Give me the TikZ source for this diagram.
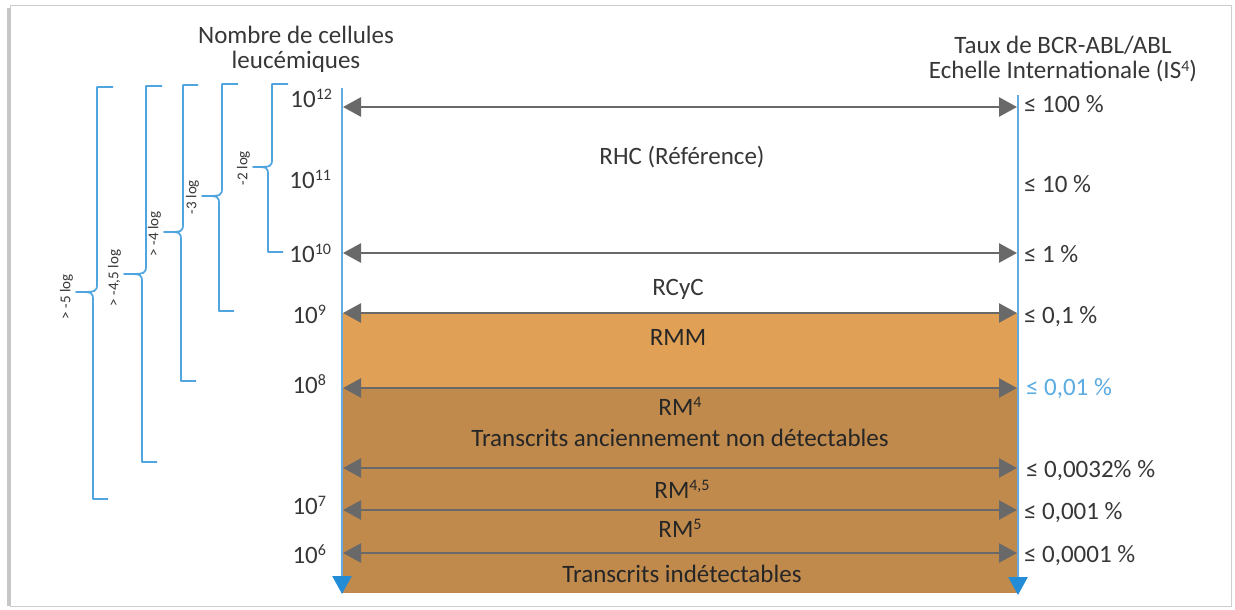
\documentclass[tikz,border=0pt]{standalone}
\usepackage{fontspec}
\setmainfont{Carlito}
\usetikzlibrary{arrows.meta}
\definecolor{axisblue}{RGB}{100,170,222}
\definecolor{tipblue}{RGB}{35,140,215}
\definecolor{bracblue}{RGB}{80,165,222}
\definecolor{arrgrey}{RGB}{105,105,105}
\definecolor{lightorange}{RGB}{224,161,86}
\definecolor{darkorange}{RGB}{192,138,77}
\definecolor{txt}{RGB}{55,55,55}
\definecolor{bluetxt}{RGB}{90,172,226}
\definecolor{framegrey}{RGB}{205,205,205}
\newcommand\supx[1]{\raisebox{7.5pt}{\fontsize{16}{16}\selectfont #1}}
\begin{document}
\begin{tikzpicture}[x=1pt,y=-1pt,
  every node/.style={inner sep=0pt, outer sep=0pt, text=txt},
  big/.style={font=\fontsize{25}{23}\selectfont},
  head/.style={font=\fontsize{25}{25}\selectfont, align=center, anchor=base},
  small/.style={font=\fontsize{15}{15}\selectfont},
  level/.style={draw=arrgrey, line width=2.6pt,
    {Triangle[length=18pt,width=19pt]}-{Triangle[length=18pt,width=19pt]}},
  axisline/.style={draw=axisblue, line width=2.5pt,
    -{Triangle[length=18pt,width=19pt,color=tipblue]}},
  bracket/.style={draw=bracblue, line width=1.7pt, line join=round},
  bracelabel/.style={small, rotate=90, anchor=south},
  framebox/.style={draw=framegrey, line width=1pt}
]
\useasboundingbox (0,0) rectangle (1235,610);
\fill[white] (0,0) rectangle (1235,610);
% frame
\draw[framebox] (10,6) rectangle (1231,606);
\draw[draw=black!22, line width=4pt] (9,8) -- (9,606);

% coloured bands
\fill[lightorange] (342,313) rectangle (1018,388);
\fill[darkorange] (342,388) rectangle (1018,593);

% axes
\coordinate (LT) at (342,88);
\coordinate (LB) at (342,594);
\coordinate (RT) at (1018,95);
\coordinate (RB) at (1018,595);
\draw[axisline] (LT) -- (LB);
\draw[axisline] (RT) -- (RB);

% level arrows
\foreach \n/\y in {a/107,b/253,c/313,d/388,e/468,f/510,g/553}{
  \coordinate (L\n) at (343,\y);
  \coordinate (R\n) at (1017,\y);
  \draw[level] (L\n) -- (R\n);
}

% headers
\node[head] (hleft) at (296,69) {Nombre de cellules\\leucémiques};
\node[head] (hright) at (1063,79) {Taux de BCR-ABL/ABL\\Echelle Internationale (IS\supx{4})};

% left labels
\node[big, anchor=base east] (n12) at (332,107) {10\supx{12}};
\node[big, anchor=base east] (n11) at (331,188) {10\supx{11}};
\node[big, anchor=base east] (n10) at (331,262) {10\supx{10}};
\node[big, anchor=base east] (n9) at (326,323) {10\supx{9}};
\node[big, anchor=base east] (n8) at (326,393) {10\supx{8}};
\node[big, anchor=base east] (n7) at (326,514) {10\supx{7}};
\node[big, anchor=base east] (n6) at (326,563) {10\supx{6}};

% right labels
\node[big, anchor=base west] (p1) at (1024,112) {≤ 100 \%};
\node[big, anchor=base west] (p2) at (1024,192) {≤ 10 \%};
\node[big, anchor=base west] (p3) at (1024,262) {≤ 1 \%};
\node[big, anchor=base west] (p4) at (1024,323) {≤ 0,1 \%};
\node[big, anchor=base west, text=bluetxt] (p5) at (1026,395) {≤ 0,01 \%};
\node[big, anchor=base west] (p6) at (1026,477) {≤ 0,0032\% \%};
\node[big, anchor=base west] (p7) at (1024,519) {≤ 0,001 \%};
\node[big, anchor=base west] (p8) at (1024,562) {≤ 0,0001 \%};

% centre labels
\node[big, anchor=base] (rhc) at (682,164) {RHC (Référence)};
\node[big, anchor=base] (rcyc) at (678,295) {RCyC};
\node[big, anchor=base, text=black!85] (rmm) at (678,345) {RMM};
\node[big, anchor=base, text=black!85] (rm4) at (680,415) {RM\supx{4}};
\node[big, anchor=base, text=black!85] (tand) at (680,446) {Transcrits anciennement non détectables};
\node[big, anchor=base, text=black!85] (rm45) at (682,498) {RM\supx{4,5}};
\node[big, anchor=base, text=black!85] (rm5) at (680,537) {RM\supx{5}};
\node[big, anchor=base, text=black!85] (tind) at (682,582) {Transcrits indétectables};

% braces
\newcommand\bracepath[7]{% xtopstub,xv top,ym,xtip,xv bottom,yt,yb
  \draw[bracket] (#1,#6) -- (#2,#6) -- (#2,#3-9) .. controls (#2,#3) and (#2,#3) .. (#4,#3)
     .. controls (#5,#3) and (#5,#3) .. (#5,#3+9) -- (#5,#7) -- (#5+15,#7);}
\bracepath{288}{272}{167}{253}{268}{84}{252}
\node[bracelabel] (b2) at (250,168) {-2 log};
\bracepath{238}{222}{196}{202}{219}{84}{311}
\node[bracelabel] (b3) at (199,197) {-3 log};
\bracepath{198}{183}{232}{164}{181}{85}{381}
\node[bracelabel] (b4) at (161,234) {> -4 log};
\bracepath{162}{146}{274}{124}{142}{86}{462}
\node[bracelabel] (b45) at (121,278) {> -4,5 log};
\bracepath{113}{97}{292}{76}{93}{87}{499}
\node[bracelabel] (b5) at (73,297) {> -5 log};
\end{tikzpicture}
\end{document}
